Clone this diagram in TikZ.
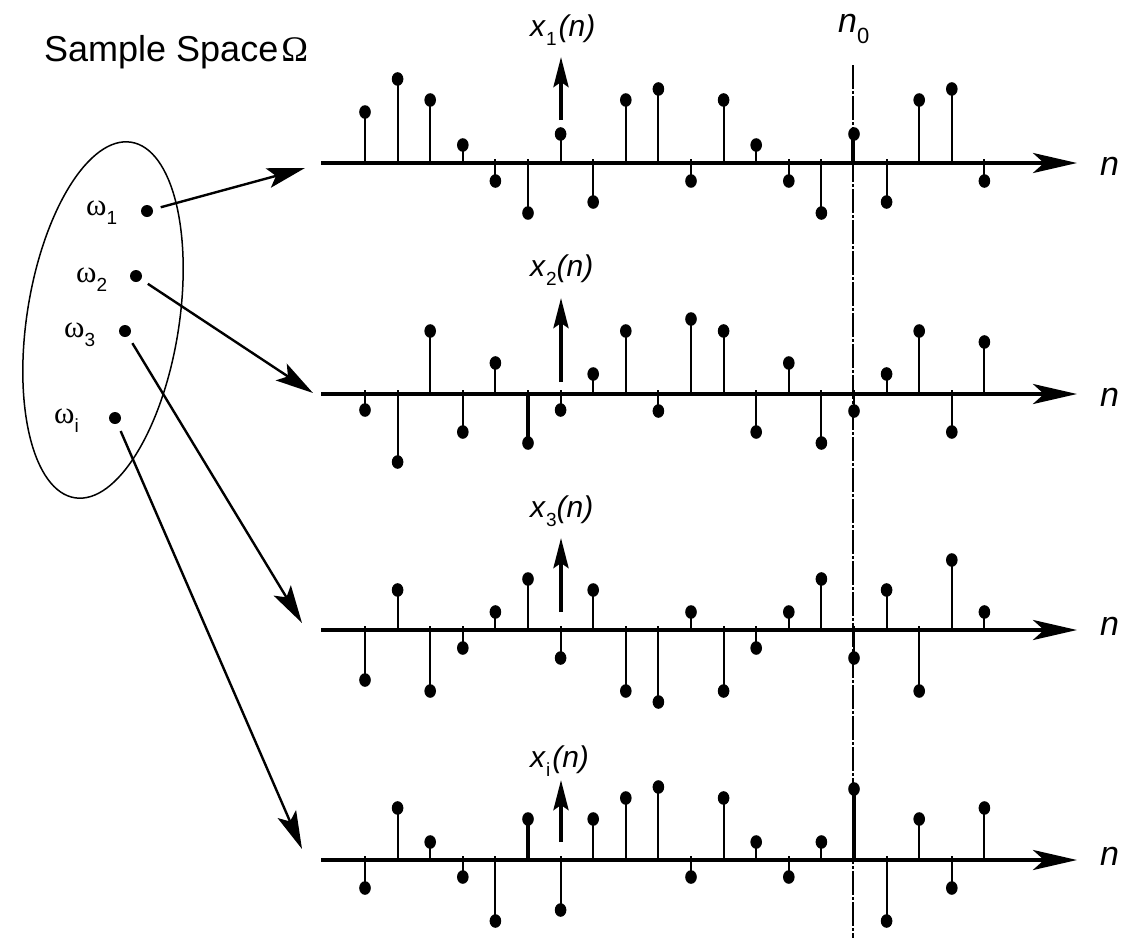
\documentclass[tikz,border=0pt]{standalone}
\usepackage{fontspec}
\setmainfont{Liberation Sans}
\newfontfamily\grk{Liberation Serif}
\usetikzlibrary{arrows.meta}
\newcommand{\mysub}[2]{\raisebox{-#1}{\rmfamily\upshape\fontsize{19}{19}\selectfont #2}}
\begin{document}
\begin{tikzpicture}[x=1pt,y=-1pt,
  stem/.style={line width=2pt},
  thickstem/.style={line width=4pt},
  axisline/.style={line width=4pt,-{Stealth[length=44pt,width=20pt,inset=11pt]}},
  uparrow/.style={line width=4pt,-{Stealth[length=30pt,width=15pt,inset=5pt]}},
  conn/.style={line width=2.4pt,shorten <=8pt,-{Stealth[length=38pt,width=20pt,inset=8pt]}},
  wdot/.style={circle,fill=black,inner sep=0pt,minimum size=12pt},
  wlab/.style={anchor=base west,inner sep=0pt,font=\grk\fontsize{31}{31}\selectfont},
  xlab/.style={anchor=base west,inner sep=0pt,font=\fontsize{30}{30}\selectfont},
  nlab/.style={anchor=base west,inner sep=0pt,font=\fontsize{34}{34}\selectfont\itshape},
  refline/.style={line width=2pt,dash pattern=on 24pt off 2pt on 3pt off 2pt}
]
\useasboundingbox (0,0) rectangle (1138,938);

% title
\node[anchor=base west,inner sep=0pt,font=\fontsize{36}{36}\selectfont] (title) at (44,61) {Sample Space\kern3pt{\grk Ω}};

% sample space ellipse
\draw[line width=1.5pt,rotate around={-9:(103,320)}] (103,320) ellipse [x radius=76, y radius=180];

% outcomes
\node[wdot] (w1) at (147,211) {};
\node[wdot] (w2) at (136,276) {};
\node[wdot] (w3) at (125,331) {};
\node[wdot] (wi) at (115,418) {};
\node[wlab] (lw1) at (86,215) {ω\mysub{9pt}{1}};
\node[wlab] (lw2) at (76,282) {ω\mysub{9pt}{2}};
\node[wlab] (lw3) at (64,337) {ω\mysub{9pt}{3}};
\node[wlab] (lwi) at (54,423) {ω\mysub{9pt}{i}};

% axes
\coordinate (a1) at (321,163); \coordinate (e1) at (1077,163);
\coordinate (a2) at (321,394); \coordinate (e2) at (1077,394);
\coordinate (a3) at (321,630); \coordinate (e3) at (1077,630);
\coordinate (a4) at (321,860); \coordinate (e4) at (1077,860);

% stems
\foreach \Y/\vals in {163/{51,84,63,18,-18,-50,29,-39,63,74,-18,63,18,-18,-50,29,-39,63,74,-18},
                      394/{-16,-68,63,-38,31,-49,-16,20,63,-17,75,63,-38,31,-49,-17,20,63,-38,52},
                      630/{-50,40,-61,-18,18,51,-28,40,-61,-72,18,-61,-18,18,51,-28,40,-61,70,18},
                      860/{-28,52,18,-17,-61,41,-50,41,62,73,-17,62,18,-17,18,71,-61,41,-28,52}}{
  \foreach \v [count=\k from 0] in \vals {
    \pgfmathsetmacro\xx{365+32.6*\k}
    \pgfmathsetmacro\tip{\Y-\v}
    \pgfmathsetmacro\st{\v<0 ? \Y-4 : \Y}
    \draw[stem] (\xx,\st) -- (\xx,\tip);
    \fill (\xx,\tip) ellipse [x radius=5.8, y radius=6.8];
  }
}
% thicker stems
\draw[thickstem] (853,163) -- (853,134);
\draw[thickstem] (528,394) -- (528,443);
\draw[thickstem] (528,860) -- (528,819);
\draw[thickstem] (854,860) -- (854,789);

\draw[axisline] (a1) -- (e1);
\draw[axisline] (a2) -- (e2);
\draw[axisline] (a3) -- (e3);
\draw[axisline] (a4) -- (e4);

% n labels
\node[nlab] (n1) at (1100,175) {n};
\node[nlab] (n2) at (1100,406) {n};
\node[nlab] (n3) at (1100,635) {n};
\node[nlab] (n4) at (1100,865) {n};

% reference line n0
\coordinate (r0) at (853,65);
\coordinate (r1) at (853,938);
\draw[refline] (r0) -- (r1);
\node[nlab] (n0) at (838,32) {n\raisebox{-11pt}{\upshape\fontsize{22}{22}\selectfont 0}};

% vertical arrows
\coordinate (u1a) at (561,120); \coordinate (u1b) at (561,57);
\coordinate (u2a) at (561,382); \coordinate (u2b) at (561,298);
\coordinate (u3a) at (561,612); \coordinate (u3b) at (561,538);
\coordinate (u4a) at (561,842); \coordinate (u4b) at (561,780);
\draw[uparrow] (u1a) -- (u1b);
\draw[uparrow] (u2a) -- (u2b);
\draw[uparrow] (u3a) -- (u3b);
\draw[uparrow] (u4a) -- (u4b);

% signal labels
\node[xlab] (x1) at (530,36) {\textit{x}\mysub{9pt}{1}\kern2pt\textit{(n)}};
\node[xlab] (x2) at (530,276) {\textit{x}\mysub{9pt}{2}\textit{(n)}};
\node[xlab] (x3) at (530,517) {\textit{x}\mysub{9pt}{3}\textit{(n)}};
\node[xlab] (x4) at (530,767) {\textit{x}\mysub{9pt}{i}\kern2pt\textit{(n)}};

% connectors
\coordinate (t1) at (305,168);
\coordinate (t2) at (313,393);
\coordinate (t3) at (302,623);
\coordinate (t4) at (302,849);
\draw[conn] (w1) -- (t1);
\draw[conn] (w2) -- (t2);
\draw[conn] (w3) -- (t3);
\draw[conn] (wi) -- (t4);
\end{tikzpicture}
\end{document}
